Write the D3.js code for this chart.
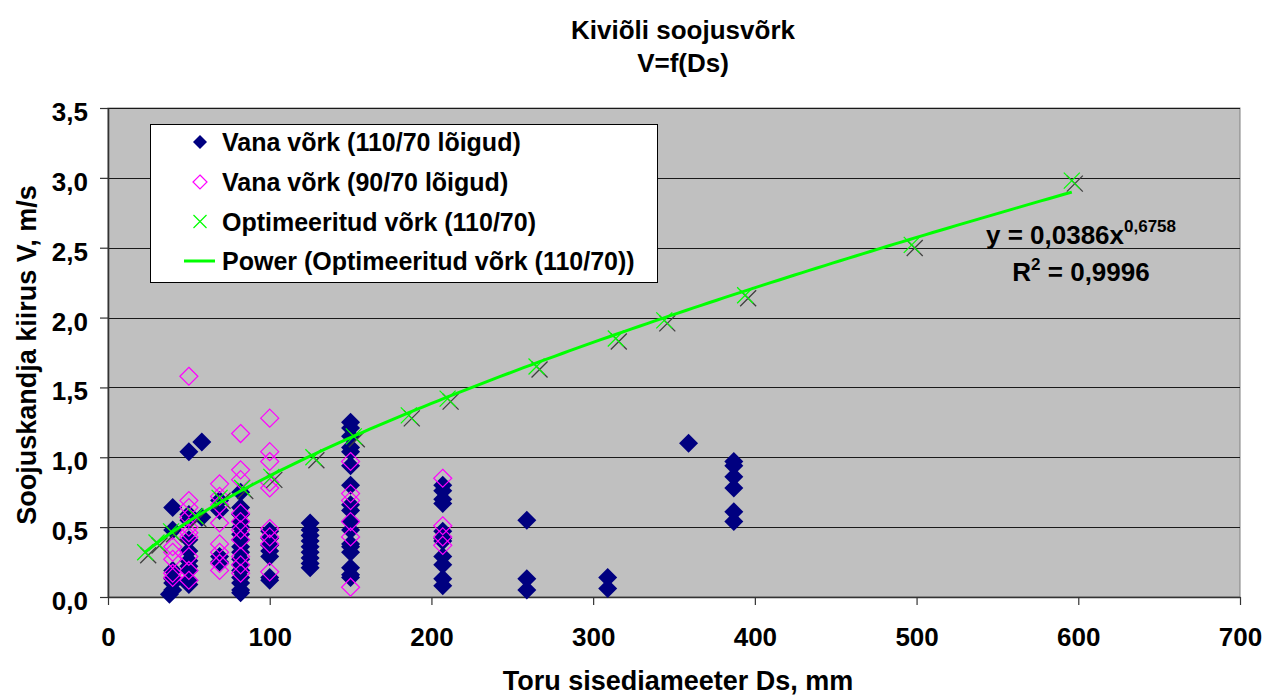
<!DOCTYPE html>
<html>
<head>
<meta charset="utf-8">
<script src="https://cdn.jsdelivr.net/npm/d3@7"></script>
<style>
  body { margin: 0; background: #fff; }
  svg text { font-family: "Liberation Sans", Arial, sans-serif; font-weight: bold; fill: #000; }
</style>
</head>
<body>
<svg id="chart" width="1265" height="698"></svg>
<script>
// Old network, 110/70 sections: pipe inner diameter (mm) and flow velocity (m/s)
const oldHotDiam = [
  38,
  40, 40, 40, 40, 40, 40,
  50, 50, 50, 50, 50, 50, 50, 50, 50, 50,
  58, 58,
  69, 69, 69, 69,
  82, 82, 82, 82, 82, 82, 82, 82, 82, 82, 82, 82, 82, 82, 82, 82,
  100, 100, 100, 100, 100, 100, 100,
  125, 125, 125, 125, 125, 125, 125, 125, 125,
  150, 150, 150, 150, 150, 150, 150, 150, 150, 150, 150, 150, 150, 150, 150, 150, 150,
  207, 207, 207, 207, 207, 207, 207, 207, 207, 207, 207,
  259, 259, 259,
  309, 309,
  359,
  387, 387, 387, 387, 387, 387
];
const oldHotVel = [
  0.02,
  0.05, 0.10, 0.13, 0.19, 0.48, 0.64,
  1.04, 0.59, 0.55, 0.41, 0.33, 0.26, 0.22, 0.19, 0.12, 0.09,
  1.11, 0.57,
  0.69, 0.62, 0.29, 0.25,
  0.75, 0.64, 0.59, 0.54, 0.50, 0.45, 0.41, 0.36, 0.32, 0.27, 0.23, 0.19, 0.14, 0.10, 0.05, 0.03,
  0.47, 0.42, 0.37, 0.33, 0.29, 0.14, 0.12,
  0.53, 0.48, 0.44, 0.40, 0.36, 0.32, 0.28, 0.24, 0.21,
  1.25, 1.21, 1.15, 1.07, 1.04, 0.94, 0.80, 0.66, 0.62, 0.54, 0.48, 0.38, 0.36, 0.32, 0.21, 0.16, 0.14,
  0.80, 0.76, 0.70, 0.67, 0.47, 0.42, 0.40, 0.29, 0.23, 0.13, 0.08,
  0.55, 0.13, 0.05,
  0.14, 0.06,
  1.10,
  0.97, 0.94, 0.86, 0.78, 0.61, 0.54
];

// Old network, 90/70 sections
const oldWarmDiam = [
  40, 40, 40, 40, 40,
  50, 50, 50, 50, 50, 50, 50, 50, 50, 50,
  69, 69, 69, 69, 69, 69, 69, 69,
  82, 82, 82, 82, 82, 82, 82, 82, 82, 82,
  100, 100, 100, 100, 100, 100, 100, 100, 100,
  150, 150, 150, 150, 150, 150,
  207, 207, 207, 207
];
const oldWarmVel = [
  0.36, 0.32, 0.27, 0.17, 0.14,
  1.58, 0.69, 0.64, 0.57, 0.50, 0.46, 0.43, 0.29, 0.19, 0.12,
  0.81, 0.72, 0.66, 0.53, 0.38, 0.32, 0.24, 0.19,
  1.17, 0.91, 0.84, 0.60, 0.54, 0.48, 0.41, 0.29, 0.23, 0.17,
  1.28, 1.04, 0.97, 0.82, 0.78, 0.49, 0.43, 0.38, 0.18,
  0.97, 0.74, 0.69, 0.54, 0.43, 0.07,
  0.85, 0.51, 0.43, 0.37
];

// Optimised network, 110/70
const optDiam = [23, 30, 39, 54, 69, 83, 101, 127, 152, 186, 210, 265, 314, 344, 394, 497, 596];
const optVel  = [0.32, 0.39, 0.47, 0.58, 0.71, 0.78, 0.86, 1.00, 1.15, 1.30, 1.42, 1.65, 1.85, 1.98, 2.16, 2.52, 2.98];

// Power trendline fitted to the optimised network
const trendA = 0.0386;
const trendB = 0.6758;
const trendR2 = 0.9996;

const xTicks = [0, 100, 200, 300, 400, 500, 600, 700];
const yTicks = [0, 0.5, 1.0, 1.5, 2.0, 2.5, 3.0, 3.5];

const titleLines = ["Kiviõli soojusvõrk", "V=f(Ds)"];
const xTitle = "Toru sisediameeter Ds, mm";
const yTitle = "Soojuskandja kiirus V, m/s";
const legendLabels = [
  "Vana võrk (110/70 lõigud)",
  "Vana võrk (90/70 lõigud)",
  "Optimeeritud võrk (110/70)",
  "Power (Optimeeritud võrk (110/70))"
];

const NAVY = "#000080", MAGENTA = "#FF00FF", GREEN = "#00FF00";
const comma = v => String(v).replace(".", ",");

const svg = d3.select("#chart");
const plot = { left: 108, right: 1240, top: 108, bottom: 597 };

const x = d3.scaleLinear().domain([0, 700]).range([plot.left, plot.right]);
const y = d3.scaleLinear().domain([0, 3.5]).range([plot.bottom, plot.top]);

// Plot background
svg.append("rect")
  .attr("x", plot.left).attr("y", plot.top)
  .attr("width", plot.right - plot.left).attr("height", plot.bottom - plot.top)
  .attr("fill", "#C0C0C0").attr("stroke", "#808080").attr("stroke-width", 1);

// Horizontal gridlines
svg.append("g").selectAll("line")
  .data(yTicks.filter(d => d > 0))
  .join("line")
  .attr("x1", plot.left).attr("x2", plot.right)
  .attr("y1", d => Math.round(y(d)) + 0.5).attr("y2", d => Math.round(y(d)) + 0.5)
  .attr("stroke", "#1a1a1a").attr("stroke-width", 1.2);

// Axes
const yAxis = svg.append("g")
  .attr("transform", `translate(${plot.left},0)`)
  .call(d3.axisLeft(y).tickValues(yTicks).tickSize(8).tickSizeOuter(0).tickPadding(12)
    .tickFormat(d => comma(d.toFixed(1))));
const xAxis = svg.append("g")
  .attr("transform", `translate(0,${plot.bottom})`)
  .call(d3.axisBottom(x).tickValues(xTicks).tickSize(8).tickSizeOuter(0).tickPadding(23)
    .tickFormat(d3.format("d")));
[yAxis, xAxis].forEach(g => {
  g.select(".domain").attr("stroke", "#333").attr("stroke-width", 1.6);
  g.selectAll(".tick line").attr("stroke", "#333").attr("stroke-width", 1.2);
  g.selectAll("text").attr("font-size", 26).attr("fill", "#000")
    .style("font-family", '"Liberation Sans", Arial, sans-serif').style("font-weight", "bold");
});
yAxis.selectAll("text").attr("dy", "0.48em");

// Marker shapes
const diamondPath = r => `M0,${-r}L${r},0L0,${r}L${-r},0Z`;
const crossPath = r => `M${-r},${-r}L${r},${r}M${r},${-r}L${-r},${r}`;

const oldHot = oldHotDiam.map((d, i) => ({ d, v: oldHotVel[i] }));
const oldWarm = oldWarmDiam.map((d, i) => ({ d, v: oldWarmVel[i] }));
const opt = optDiam.map((d, i) => ({ d, v: optVel[i] }));

svg.append("g").selectAll("path")
  .data(oldHot).join("path")
  .attr("transform", p => `translate(${x(p.d)},${y(p.v)})`)
  .attr("d", diamondPath(9.5))
  .attr("fill", NAVY);

svg.append("g").selectAll("path")
  .data(oldWarm).join("path")
  .attr("transform", p => `translate(${x(p.d)},${y(p.v)})`)
  .attr("d", diamondPath(9))
  .attr("fill", "none").attr("stroke", MAGENTA).attr("stroke-width", 1.2);

// Optimised points: dark drop shadow under each green cross
const optG = svg.append("g");
optG.selectAll("path.shadow")
  .data(opt).join("path").attr("class", "shadow")
  .attr("transform", p => `translate(${x(p.d) + 3},${y(p.v) + 3})`)
  .attr("d", crossPath(8))
  .attr("fill", "none").attr("stroke", "#404040").attr("stroke-width", 1.3);
optG.selectAll("path.mark")
  .data(opt).join("path").attr("class", "mark")
  .attr("transform", p => `translate(${x(p.d)},${y(p.v)})`)
  .attr("d", crossPath(8))
  .attr("fill", "none").attr("stroke", GREEN).attr("stroke-width", 1.2);

// Power trendline y = a·x^b over the range of the optimised data
const dMin = d3.min(optDiam), dMax = d3.max(optDiam);
const trendPts = d3.range(0, 121).map(i => {
  const d = dMin + (dMax - dMin) * i / 120;
  return [d, trendA * Math.pow(d, trendB)];
});
svg.append("path")
  .datum(trendPts)
  .attr("d", d3.line().x(p => x(p[0])).y(p => y(p[1])))
  .attr("fill", "none").attr("stroke", GREEN).attr("stroke-width", 3);

// Trendline equation and R²
const eq = svg.append("text").attr("x", 1081).attr("y", 244).attr("text-anchor", "middle").attr("font-size", 26);
eq.append("tspan").text(`y = ${comma(trendA)}x`);
eq.append("tspan").attr("font-size", 17).attr("dy", -12).text(comma(trendB));
const r2 = svg.append("text").attr("x", 1081).attr("y", 281).attr("text-anchor", "middle").attr("font-size", 26);
r2.append("tspan").text("R");
r2.append("tspan").attr("font-size", 17).attr("dy", -11).text("2");
r2.append("tspan").attr("dy", 11).text(` = ${comma(trendR2)}`);

// Legend
const lg = svg.append("g");
lg.append("rect").attr("x", 150.5).attr("y", 124.5).attr("width", 507).attr("height", 158)
  .attr("fill", "#fff").attr("stroke", "#000").attr("stroke-width", 1);
const rowY = [142, 182, 221.5, 261];
const mx = 200;
lg.append("path").attr("transform", `translate(${mx},${rowY[0]})`).attr("d", diamondPath(7)).attr("fill", NAVY);
lg.append("path").attr("transform", `translate(${mx},${rowY[1]})`).attr("d", diamondPath(7))
  .attr("fill", "none").attr("stroke", MAGENTA).attr("stroke-width", 1.2);
lg.append("path").attr("transform", `translate(${mx},${rowY[2]})`).attr("d", crossPath(6.5))
  .attr("fill", "none").attr("stroke", GREEN).attr("stroke-width", 1.2);
lg.append("line").attr("x1", 184).attr("x2", 215).attr("y1", rowY[3]).attr("y2", rowY[3])
  .attr("stroke", GREEN).attr("stroke-width", 3);
lg.selectAll("text.lab").data(legendLabels).join("text").attr("class", "lab")
  .attr("x", 222).attr("y", (d, i) => rowY[i]).attr("dy", "0.36em")
  .attr("font-size", 25).text(d => d);

// Titles
svg.selectAll("text.title").data(titleLines).join("text").attr("class", "title")
  .attr("x", 683).attr("y", (d, i) => 39 + i * 33)
  .attr("text-anchor", "middle").attr("font-size", 26).text(d => d);
svg.append("text").attr("x", 678).attr("y", 690).attr("text-anchor", "middle")
  .attr("font-size", 27).text(xTitle);
svg.append("text").attr("transform", "translate(36,355) rotate(-90)").attr("text-anchor", "middle")
  .attr("font-size", 27).text(yTitle);
</script>
</body>
</html>
